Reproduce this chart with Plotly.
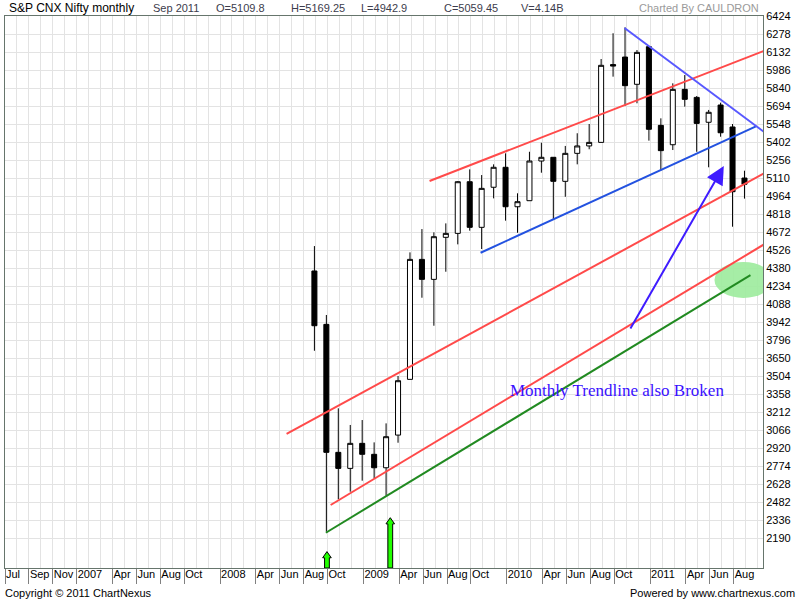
import plotly.graph_objects as go
import pandas as pd

# ---------------- data ----------------
candle_months = [
    "2008-09", "2008-10", "2008-11", "2008-12",
    "2009-01", "2009-02", "2009-03", "2009-04", "2009-05", "2009-06",
    "2009-07", "2009-08", "2009-09", "2009-10", "2009-11", "2009-12",
    "2010-01", "2010-02", "2010-03", "2010-04", "2010-05", "2010-06",
    "2010-07", "2010-08", "2010-09", "2010-10", "2010-11", "2010-12",
    "2011-01", "2011-02", "2011-03", "2011-04", "2011-05", "2011-06",
    "2011-07", "2011-08", "2011-09",
]
opens = [4356, 3923, 2885, 2755,
         2958, 2869, 2760, 3025, 3477, 4450,
         4288, 4629, 4661, 5080, 4710, 5035,
         5197, 4877, 4926, 5248, 5278, 5083,
         5310, 5370, 5399, 6030, 6091, 5870,
         6175, 5537, 5380, 5829, 5764, 5562,
         5702, 5524, 5109.8]
highs = [4558, 3999, 3242, 3107,
         3147, 2966, 3120, 3504, 4507, 4696,
         4669, 4742, 5085, 5180, 5134, 5221,
         5310, 4986, 5323, 5396, 5278, 5370,
         5473, 5548, 6075, 6284, 6332, 6148,
         6180, 5594, 5878, 5945, 5775, 5662,
         5721, 5548, 5169.25]
lows = [3709, 2241, 2504, 2566,
        2655, 2674, 2533, 2963, 3477, 4139,
        3912, 4350, 4572, 4683, 4534, 4945,
        4764, 4666, 4926, 5153, 4775, 4958,
        5221, 5343, 5399, 5932, 5694, 5716,
        5413, 5169, 5337, 5689, 5323, 5197,
        5445, 4715, 4942.9]
closes = [3912, 2885, 2755, 2958,
          2869, 2760, 3012, 3466, 4450, 4288,
          4634, 4661, 5080, 4710, 5026, 5197,
          4877, 4918, 5248, 5278, 5083, 5310,
          5370, 5399, 6024, 6018, 5859, 6129,
          5505, 5332, 5829, 5748, 5553, 5643,
          5477, 4999, 5059.45]

tick_months = ["2006-07", "2006-09", "2006-11", "2007-01", "2007-04", "2007-06",
               "2007-08", "2007-10", "2008-01", "2008-04", "2008-06", "2008-08",
               "2008-10", "2009-01", "2009-04", "2009-06", "2009-08", "2009-10",
               "2010-01", "2010-04", "2010-06", "2010-08", "2010-10", "2011-01",
               "2011-04", "2011-06", "2011-08"]
tick_text = ["Jul", "Sep", "Nov", "2007", "Apr", "Jun", "Aug", "Oct", "2008",
             "Apr", "Jun", "Aug", "Oct", "2009", "Apr", "Jun", "Aug", "Oct",
             "2010", "Apr", "Jun", "Aug", "Oct", "2011", "Apr", "Jun", "Aug"]

y_ticks = [6424 - 146 * k for k in range(30)]

# buy-signal arrows (month, top value)
signal_months = ["2008-10", "2009-03"]
signal_tops = [2080, 2355]

# trendlines: (month index start, value start, month index end, value end)
red_lines = [(35.54, 5086, 63.49, 6140),
             (23.57, 3034, 63.49, 5145),
             (27.26, 2458, 63.49, 4569)]
green_line = (26.86, 2233, 62.40, 4323)
blue_up = (39.81, 4504, 62.86, 5529)
blue_down = (51.86, 6327, 63.49, 5487)
arrow_line = (52.28, 3877, 60.17, 5207)
ellipse_box = (59.39, 4137, 64.24, 4429)

origin = pd.Period("2006-07", "M")


def midx(m):
    return (pd.Period(m, "M") - origin).n


xs = [midx(m) - 0.1 for m in candle_months]
tick_vals = [midx(m) for m in tick_months]

Y0, Y1 = 1947, 6424
X0, X1 = 0.0, 63.45
ML, MR, MT, MB = 5, 37, 16, 32
W, H = 800, 600
PW, PH = W - ML - MR, H - MT - MB


def px(xp):
    return (xp - ML) / PW


def py(yp):
    return (H - MB - yp) / PH


fig = go.Figure()
fig.add_trace(go.Candlestick(
    x=xs, open=opens, high=highs, low=lows, close=closes,
    increasing=dict(line=dict(color="black", width=1), fillcolor="white"),
    decreasing=dict(line=dict(color="black", width=1), fillcolor="black"),
    whiskerwidth=0, showlegend=False, hoverinfo="skip",
))

shapes = []
# green ellipse
shapes.append(dict(type="circle", xref="x", yref="y",
                   x0=ellipse_box[0], y0=ellipse_box[1], x1=ellipse_box[2], y1=ellipse_box[3],
                   fillcolor="#9ceb9c", line=dict(width=0), layer="above", opacity=0.9))
for (a, b, c, d) in red_lines:
    shapes.append(dict(type="line", xref="x", yref="y", x0=a, y0=b, x1=c, y1=d,
                       line=dict(color="#ff4a4a", width=2), layer="above"))
shapes.append(dict(type="line", xref="x", yref="y", x0=green_line[0], y0=green_line[1],
                   x1=green_line[2], y1=green_line[3],
                   line=dict(color="#218a21", width=2), layer="above"))
shapes.append(dict(type="line", xref="x", yref="y", x0=blue_up[0], y0=blue_up[1],
                   x1=blue_up[2], y1=blue_up[3],
                   line=dict(color="#2352e0", width=2), layer="above"))
shapes.append(dict(type="line", xref="x", yref="y", x0=blue_down[0], y0=blue_down[1],
                   x1=blue_down[2], y1=blue_down[3],
                   line=dict(color="#5858ff", width=2), layer="above"))

# signal arrows
shaft_hw, head_hw, head_h = 0.2, 0.36, 50
for m, top in zip(signal_months, signal_tops):
    cx = midx(m) + (0.25 if m == "2009-03" else -0.05)
    b = Y0
    p = (f"M {cx - shaft_hw},{b} L {cx - shaft_hw},{top - head_h} L {cx - head_hw},{top - head_h} "
         f"L {cx},{top} L {cx + head_hw},{top - head_h} L {cx + shaft_hw},{top - head_h} "
         f"L {cx + shaft_hw},{b} Z")
    shapes.append(dict(type="path", xref="x", yref="y", path=p,
                       fillcolor="#22ff00", line=dict(color="black", width=1), layer="above"))

annotations = []
annotations.append(dict(x=arrow_line[2], y=arrow_line[3], ax=arrow_line[0], ay=arrow_line[1],
                        xref="x", yref="y", axref="x", ayref="y", text="", showarrow=True,
                        arrowhead=2, arrowsize=1.8, arrowwidth=2, arrowcolor="#3f1cff"))
annotations.append(dict(x=px(508), y=py(390), xref="paper", yref="paper", xanchor="left",
                        yanchor="middle", showarrow=False, text="Monthly Trendline also Broken",
                        font=dict(family="Liberation Serif, Times New Roman, serif", size=17,
                                  color="#3a10ff")))
# header
hdr_font = dict(family="Liberation Sans, Arial, sans-serif", size=11, color="#3c3c4c")
annotations.append(dict(x=px(7), y=py(8), xref="paper", yref="paper", xanchor="left",
                        yanchor="middle", showarrow=False, text="S&P CNX Nifty monthly",
                        font=dict(family="Liberation Sans, Arial, sans-serif", size=12, color="black")))
for xp_, t in [(151, "Sep 2011"), (214, "O=5109.8"), (289, "H=5169.25"), (359, "L=4942.9"),
               (442, "C=5059.45"), (519, "V=4.14B")]:
    annotations.append(dict(x=px(xp_), y=py(8), xref="paper", yref="paper", xanchor="left",
                            yanchor="middle", showarrow=False, text=t, font=hdr_font))
annotations.append(dict(x=px(761), y=py(8), xref="paper", yref="paper", xanchor="right",
                        yanchor="middle", showarrow=False, text="Charted By CAULDRON",
                        font=dict(family="Liberation Sans, Arial, sans-serif", size=11, color="#9a9a9a")))
# footer
ft = dict(family="Liberation Sans, Arial, sans-serif", size=11, color="black")
annotations.append(dict(x=px(3), y=py(593), xref="paper", yref="paper", xanchor="left",
                        yanchor="middle", showarrow=False, text="Copyright © 2011 ChartNexus", font=ft))
annotations.append(dict(x=px(797), y=py(593), xref="paper", yref="paper", xanchor="right",
                        yanchor="middle", showarrow=False, text="Powered by www.chartnexus.com", font=ft))

fig.update_layout(
    width=W, height=H,
    margin=dict(l=ML, r=MR, t=MT, b=MB, pad=0, autoexpand=False),
    paper_bgcolor="white", plot_bgcolor="white",
    shapes=shapes, annotations=annotations,
    boxgap=0.4,
    showlegend=False,
    font=dict(family="Liberation Sans, Arial, sans-serif", size=11, color="black"),
    xaxis=dict(range=[X0, X1], tickmode="array", tickvals=tick_vals, ticktext=tick_text,
               ticks="outside", ticklen=15, tickcolor="#808080", tickwidth=1,
               ticklabelposition="outside right", tickangle=0, ticklabelstandoff=-4,
               showgrid=True, gridcolor="#e3e3e3", gridwidth=1,
               minor=dict(tickmode="linear", tick0=0, dtick=1, showgrid=True,
                          gridcolor="#e3e3e3", gridwidth=1, ticks=""),
               showline=True, mirror=True, linecolor="#66756c", linewidth=1,
               zeroline=False, rangeslider=dict(visible=False), fixedrange=True,
               automargin=False, tickfont=dict(size=11, color="black")),
    yaxis=dict(range=[Y0, Y1], side="right", tickmode="array", tickvals=y_ticks,
               showgrid=True, gridcolor="#e3e3e3", gridwidth=1,
               showline=True, mirror=True, linecolor="#66756c", linewidth=1,
               zeroline=False, ticks="", fixedrange=True, automargin=False,
               tickfont=dict(size=11, color="black")),
)

fig.write_html("out.html", config={"displayModeBar": False},
               post_script="document.body.style.margin='0';document.body.style.overflow='hidden';")
